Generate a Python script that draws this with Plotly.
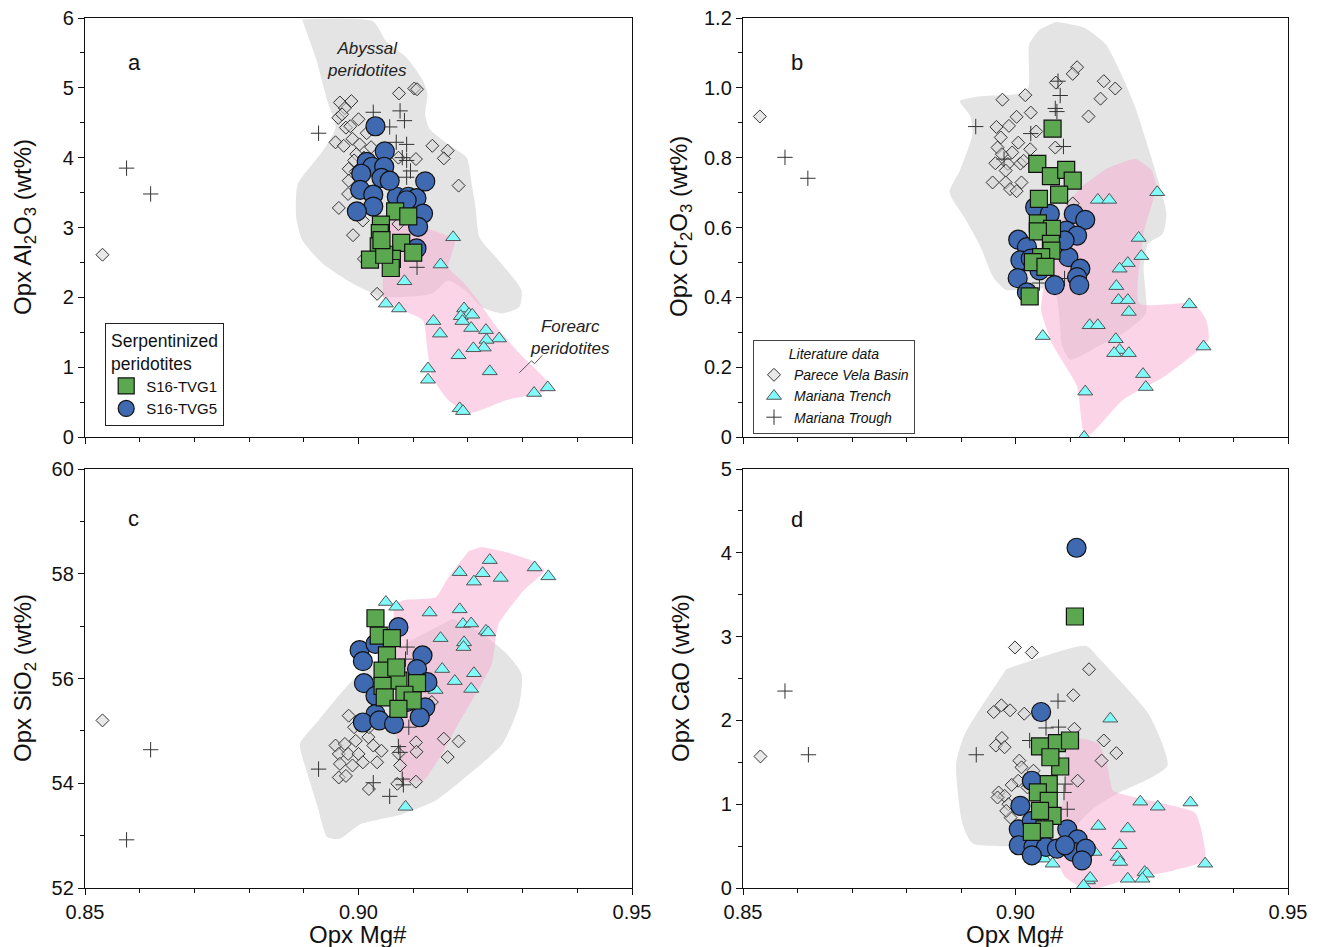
import plotly.graph_objects as go

# ---------------- Panel a : Al2O3 ----------------
A_ABYSSAL_X = [0.8897,0.9027,0.9050,0.9088,0.9118,0.9126,0.9122,0.9130,0.9164,0.9198,0.9206,0.9214,0.9221,0.9256,0.9298,0.9294,0.9263,0.9225,0.9195,0.9164,0.9134,0.9042,0.8989,0.8935,0.8897,0.8886,0.8889,0.8935,0.8958,0.8943,0.8924]
A_ABYSSAL_Y = [5.98,5.95,5.67,5.43,5.10,4.91,4.62,4.41,4.19,4.00,3.67,3.29,2.86,2.53,2.10,1.86,1.77,1.86,2.10,2.24,2.05,2.01,2.20,2.48,2.82,3.15,3.62,4.10,4.43,4.81,5.38]
A_FOREARC_X = [0.9053,0.9118,0.9176,0.9164,0.9191,0.9218,0.9252,0.9294,0.9347,0.9340,0.9271,0.9202,0.9164,0.9134,0.9126,0.9118,0.9080,0.9046,0.9046,0.9050]
A_FOREARC_Y = [3.24,3.01,2.82,2.43,2.22,1.96,1.58,1.20,0.77,0.65,0.53,0.34,0.53,0.87,1.25,1.67,1.82,1.98,2.43,2.91]
A_PVB_X = [0.9102,0.9107,0.9074,0.8966,0.8987,0.8975,0.8963,0.9000,0.8977,0.9015,0.8958,0.8973,0.8989,0.9002,0.9023,0.8996,0.9135,0.9163,0.9156,0.9105,0.9073,0.8982,0.8992,0.8982,0.8981,0.9183,0.8964,0.8990,0.9008,0.9010,0.9034,0.9073,0.8532,0.8970,0.8985,0.9010,0.8995]
A_PVB_Y = [4.99,4.98,4.92,4.79,4.81,4.71,4.57,4.55,4.43,4.35,4.22,4.17,4.27,4.19,4.15,4.05,4.17,4.10,3.99,3.98,4.00,3.84,3.96,3.67,3.48,3.60,3.28,2.89,3.10,2.55,2.05,3.05,2.61,4.62,4.45,4.00,3.80]
A_TRENCH_X = [0.9173,0.9150,0.9084,0.9050,0.9074,0.9193,0.9202,0.9187,0.9208,0.9137,0.9190,0.9149,0.9206,0.9233,0.9257,0.9234,0.9229,0.9210,0.9183,0.9240,0.9127,0.9127,0.9321,0.9346,0.9185,0.9191]
A_TRENCH_Y = [2.86,2.47,2.23,1.91,1.84,1.84,1.76,1.73,1.75,1.66,1.66,1.48,1.56,1.53,1.41,1.39,1.28,1.27,1.17,0.94,0.98,0.82,0.63,0.71,0.41,0.37]
A_TROUGH_X = [0.8576,0.8620,0.8927,0.9027,0.9076,0.9084,0.9057,0.9069,0.9088,0.9080,0.9088,0.9095,0.9088,0.9107]
A_TROUGH_Y = [3.85,3.48,4.35,4.65,4.67,4.53,4.44,4.22,4.19,4.00,3.96,3.81,3.72,2.43]
A_TVG5_X = [0.9031,0.9048,0.9015,0.9025,0.9047,0.9005,0.9042,0.9003,0.9027,0.9070,0.9091,0.9106,0.9122,0.9027,0.8997,0.9118,0.9109,0.9106,0.9057,0.9088]
A_TVG5_Y = [4.45,4.09,3.94,3.87,3.87,3.77,3.71,3.54,3.47,3.44,3.44,3.42,3.66,3.30,3.23,3.20,3.01,2.70,3.67,3.39]
A_TVG1_X = [0.9067,0.9091,0.9041,0.9039,0.9037,0.9078,0.9100,0.9021,0.9061,0.9059,0.9047,0.9042]
A_TVG1_Y = [3.23,3.16,3.04,2.92,2.73,2.78,2.64,2.54,2.55,2.42,2.61,2.82]
A_LEADER_X = [0.9294,0.9310,0.9316,0.9322,0.9336]
A_LEADER_Y = [0.92,1.04,1.09,1.05,1.17]

# ---------------- Panel b : Cr2O3 ----------------
B_ABYSSAL_X = [0.9074,0.9128,0.9166,0.9197,0.9220,0.9262,0.9277,0.9270,0.9243,0.9235,0.9239,0.9197,0.9151,0.9101,0.9086,0.9070,0.8982,0.8959,0.8936,0.8906,0.8879,0.8898,0.8921,0.8917,0.8898,0.8936,0.9021,0.9025,0.9044]
B_ABYSSAL_Y = [1.189,1.171,1.124,1.029,0.943,0.734,0.639,0.582,0.553,0.487,0.354,0.297,0.259,0.221,0.259,0.420,0.422,0.458,0.544,0.629,0.701,0.763,0.867,0.919,0.962,0.976,0.991,1.124,1.167]
B_FOREARC_X = [0.9120,0.9166,0.9220,0.9250,0.9258,0.9235,0.9227,0.9327,0.9350,0.9354,0.9273,0.9197,0.9136,0.9124,0.9113,0.9067,0.9047,0.9051,0.9067,0.9090]
B_FOREARC_Y = [0.715,0.767,0.796,0.763,0.715,0.582,0.382,0.382,0.335,0.278,0.173,0.106,0.007,0.021,0.145,0.268,0.363,0.420,0.487,0.658]
B_PVB_X = [0.8531,0.9113,0.9105,0.9074,0.9162,0.9183,0.8976,0.9018,0.9156,0.9028,0.9002,0.9134,0.8965,0.8988,0.9038,0.8973,0.9005,0.8967,0.9027,0.9073,0.8994,0.8975,0.8963,0.8986,0.9009,0.8982,0.8958,0.8982,0.9011,0.8990,0.9002,0.9105,0.9015]
B_PVB_Y = [0.918,1.059,1.040,1.015,1.019,0.998,0.966,0.979,0.969,0.929,0.917,0.918,0.888,0.891,0.875,0.858,0.843,0.829,0.824,0.829,0.815,0.810,0.784,0.782,0.783,0.763,0.729,0.729,0.729,0.710,0.704,0.669,0.791]
B_TRENCH_X = [0.9151,0.9172,0.9260,0.9226,0.9231,0.9206,0.9191,0.9185,0.9189,0.9206,0.9208,0.9319,0.9136,0.9151,0.9050,0.9184,0.9191,0.9181,0.9208,0.9345,0.9234,0.9239,0.9128,0.9126]
B_TRENCH_Y = [0.679,0.679,0.701,0.570,0.518,0.498,0.482,0.432,0.392,0.392,0.358,0.380,0.320,0.320,0.289,0.280,0.249,0.240,0.240,0.259,0.180,0.143,0.130,0.000]
B_TROUGH_X = [0.8577,0.8619,0.8927,0.9078,0.9082,0.9073,0.9076,0.9028,0.9088,0.8979,0.9090,0.9044,0.9090]
B_TROUGH_Y = [0.801,0.741,0.889,1.019,0.978,0.941,0.932,0.869,0.832,0.796,0.715,0.441,0.454]
B_TVG5_X = [0.9036,0.9063,0.9107,0.9128,0.9093,0.9113,0.9005,0.9021,0.9097,0.9009,0.9028,0.9119,0.9004,0.9113,0.9117,0.9072,0.9021,0.9044,0.9090]
B_TVG5_Y = [0.658,0.639,0.639,0.622,0.591,0.577,0.565,0.544,0.515,0.506,0.511,0.482,0.455,0.458,0.435,0.435,0.414,0.477,0.563]
B_TVG1_X = [0.9068,0.9040,0.9065,0.9093,0.9105,0.9080,0.9043,0.9041,0.9067,0.9041,0.9065,0.9066,0.9047,0.9032,0.9055,0.9026]
B_TVG1_Y = [0.883,0.782,0.747,0.765,0.734,0.694,0.682,0.612,0.596,0.589,0.553,0.534,0.515,0.501,0.487,0.403]

# ---------------- Panel c : SiO2 ----------------
C_ABYSSAL_X = [0.9172,0.9218,0.9271,0.9298,0.9294,0.9263,0.9195,0.9141,0.9080,0.9004,0.8966,0.8943,0.8924,0.8905,0.8893,0.8927,0.8989,0.9065,0.9118]
C_ABYSSAL_Y = [57.14,56.91,56.47,56.09,55.51,54.75,54.11,53.67,53.41,53.22,52.94,52.97,53.60,54.24,54.75,55.20,55.96,56.53,56.85]
C_FOREARC_X = [0.9225,0.9271,0.9317,0.9340,0.9302,0.9256,0.9244,0.9218,0.9179,0.9149,0.9118,0.9080,0.9073,0.9065,0.9069,0.9065,0.9080,0.9141,0.9164,0.9202]
C_FOREARC_Y = [58.51,58.41,58.25,58.06,57.68,57.04,56.28,55.77,55.07,54.50,54.05,54.05,54.62,55.26,56.53,57.36,57.49,57.55,57.93,58.44]
C_PVB_X = [0.8532,0.8982,0.8992,0.8958,0.8975,0.8995,0.8964,0.8981,0.9000,0.8966,0.8989,0.9008,0.8964,0.9018,0.9027,0.9042,0.9034,0.9019,0.9071,0.9076,0.9073,0.9105,0.9106,0.9105,0.9156,0.9183,0.9163,0.9134,0.9019,0.8977]
C_PVB_Y = [55.20,55.29,55.07,54.72,54.75,54.81,54.56,54.56,54.56,54.37,54.34,54.40,54.11,54.88,54.72,54.62,54.40,53.89,53.99,54.34,54.57,54.78,54.60,54.03,54.85,54.80,54.50,55.55,55.07,54.14]
C_TRENCH_X = [0.9240,0.9322,0.9347,0.9185,0.9227,0.9260,0.9211,0.9050,0.9069,0.9130,0.9185,0.9191,0.9206,0.9233,0.9237,0.9150,0.9193,0.9192,0.9153,0.9211,0.9176,0.9206,0.9086,0.9141]
C_TRENCH_Y = [58.26,58.12,57.95,58.03,58.01,57.92,57.85,57.46,57.37,57.26,57.32,57.04,57.05,56.91,56.88,56.77,56.69,56.60,56.18,56.10,55.95,55.80,53.55,55.78]
C_TROUGH_X = [0.8576,0.8620,0.8927,0.9027,0.9057,0.9080,0.9082,0.9073,0.9076,0.9089,0.9086,0.9092]
C_TROUGH_Y = [52.92,54.64,54.27,54.01,53.75,54.08,53.97,54.70,54.59,56.60,56.37,55.07]
C_TVG5_X = [0.9073,0.9002,0.9031,0.9008,0.9117,0.9107,0.9010,0.9126,0.9031,0.9122,0.9031,0.9008,0.9038,0.9112,0.9065,0.9088]
C_TVG5_Y = [56.98,56.54,56.66,56.33,56.44,56.18,55.91,55.93,55.67,55.45,55.32,55.16,55.20,55.26,55.13,55.55]
C_TVG1_X = [0.9031,0.9037,0.9061,0.9052,0.9044,0.9073,0.9107,0.9044,0.9048,0.9084,0.9099,0.9073,0.9069]
C_TVG1_Y = [57.15,56.82,56.77,56.44,56.15,55.96,55.91,55.86,55.64,55.69,55.58,55.42,56.21]

# ---------------- Panel d : CaO ----------------
D_ABYSSAL_X = [0.8983,0.9129,0.9152,0.9198,0.9244,0.9267,0.9279,0.9244,0.9191,0.9145,0.9114,0.9091,0.9068,0.8922,0.8903,0.8891,0.8907,0.8937]
D_ABYSSAL_Y = [2.61,2.89,2.75,2.43,2.08,1.76,1.46,1.30,1.14,0.96,0.76,0.60,0.53,0.53,0.76,1.48,1.84,2.16]
D_FOREARC_X = [0.9091,0.9122,0.9152,0.9168,0.9179,0.9221,0.9329,0.9340,0.9348,0.9290,0.9198,0.9152,0.9122,0.9091,0.9076,0.9083,0.9091]
D_FOREARC_Y = [1.72,1.78,1.72,1.48,1.16,1.08,0.90,0.72,0.33,0.21,0.09,0.00,0.00,0.13,0.33,0.84,1.24]
D_PVB_X = [0.8532,0.8999,0.9030,0.9135,0.9106,0.8960,0.8974,0.8990,0.9016,0.9108,0.8964,0.8975,0.8980,0.9162,0.9185,0.9158,0.9007,0.9011,0.9033,0.9114,0.9005,0.8993,0.8969,0.8980,0.8967,0.8987,0.8991,0.8983,0.9022]
D_PVB_Y = [1.57,2.87,2.81,2.61,2.30,2.10,2.18,2.12,2.08,1.90,1.70,1.79,1.68,1.76,1.61,1.52,1.52,1.44,1.40,1.28,1.28,1.23,1.14,1.10,1.08,1.00,0.84,0.92,1.20]
D_TRENCH_X = [0.9174,0.9229,0.9261,0.9321,0.9206,0.9152,0.9145,0.9191,0.9187,0.9192,0.9237,0.9241,0.9206,0.9133,0.9137,0.9348,0.9053,0.9068,0.9125,0.9233]
D_TRENCH_Y = [2.02,1.03,0.97,1.02,0.71,0.74,0.43,0.51,0.37,0.31,0.19,0.17,0.11,0.09,0.12,0.29,0.35,0.29,0.03,0.11]
D_TROUGH_X = [0.8577,0.8620,0.8928,0.9078,0.9056,0.9079,0.9026,0.9089,0.9095,0.9091]
D_TROUGH_Y = [2.35,1.59,1.59,2.23,1.91,1.92,1.76,1.14,0.94,1.24]
D_TVG5_X = [0.9112,0.9047,0.9030,0.9009,0.9006,0.9030,0.9095,0.9114,0.9006,0.9033,0.9056,0.9076,0.9106,0.9129,0.9122,0.9030,0.9091]
D_TVG5_Y = [4.06,2.10,1.28,0.98,0.70,0.80,0.70,0.58,0.51,0.49,0.49,0.47,0.43,0.47,0.33,0.39,0.51]
D_TVG1_X = [0.9109,0.9045,0.9076,0.9100,0.9082,0.9061,0.9041,0.9061,0.9068,0.9053,0.9030,0.9064,0.9045]
D_TVG1_Y = [3.24,1.69,1.73,1.76,1.45,1.24,1.14,1.04,0.86,0.70,0.67,1.56,0.92]

# ---------------- styles ----------------
FONT = "Arial, Liberation Sans, sans-serif"
GRAY = "rgb(228,228,228)"
PINK = "rgba(247,170,210,0.5)"

fig = go.Figure()

panels = [
    ("x", "y", A_ABYSSAL_X, A_ABYSSAL_Y, A_FOREARC_X, A_FOREARC_Y, A_PVB_X, A_PVB_Y, A_TRENCH_X, A_TRENCH_Y, A_TROUGH_X, A_TROUGH_Y, A_TVG5_X, A_TVG5_Y, A_TVG1_X, A_TVG1_Y),
    ("x2", "y2", B_ABYSSAL_X, B_ABYSSAL_Y, B_FOREARC_X, B_FOREARC_Y, B_PVB_X, B_PVB_Y, B_TRENCH_X, B_TRENCH_Y, B_TROUGH_X, B_TROUGH_Y, B_TVG5_X, B_TVG5_Y, B_TVG1_X, B_TVG1_Y),
    ("x3", "y3", C_ABYSSAL_X, C_ABYSSAL_Y, C_FOREARC_X, C_FOREARC_Y, C_PVB_X, C_PVB_Y, C_TRENCH_X, C_TRENCH_Y, C_TROUGH_X, C_TROUGH_Y, C_TVG5_X, C_TVG5_Y, C_TVG1_X, C_TVG1_Y),
    ("x4", "y4", D_ABYSSAL_X, D_ABYSSAL_Y, D_FOREARC_X, D_FOREARC_Y, D_PVB_X, D_PVB_Y, D_TRENCH_X, D_TRENCH_Y, D_TROUGH_X, D_TROUGH_Y, D_TVG5_X, D_TVG5_Y, D_TVG1_X, D_TVG1_Y),
]

for i, (xa, ya, gx, gy, px, py, dx, dy, tx, ty, cx, cy, bx, by, sx, sy) in enumerate(panels):
    fig.add_trace(go.Scatter(x=gx, y=gy, xaxis=xa, yaxis=ya, mode="none", fill="toself",
                             fillcolor=GRAY, line=dict(shape="spline", smoothing=0.6, width=0),
                             showlegend=False, hoverinfo="skip"))
    fig.add_trace(go.Scatter(x=px, y=py, xaxis=xa, yaxis=ya, mode="none", fill="toself",
                             fillcolor=PINK, line=dict(shape="spline", smoothing=0.5, width=0),
                             showlegend=False, hoverinfo="skip"))
    fig.add_trace(go.Scatter(x=dx, y=dy, xaxis=xa, yaxis=ya, mode="markers", name="Parece Vela Basin",
                             marker=dict(symbol="diamond", size=10, color="rgba(215,215,215,0.55)",
                                         line=dict(color="#333", width=1)),
                             showlegend=(i == 1), legend="legend2", legendrank=1))
    fig.add_trace(go.Scatter(x=tx, y=ty, xaxis=xa, yaxis=ya, mode="markers", name="Mariana Trench",
                             marker=dict(symbol="triangle-up", size=13, color="rgb(128,250,250)",
                                         line=dict(color="#555", width=1)),
                             showlegend=(i == 1), legend="legend2", legendrank=2))
    fig.add_trace(go.Scatter(x=cx, y=cy, xaxis=xa, yaxis=ya, mode="markers", name="Mariana Trough",
                             marker=dict(symbol="cross-thin", size=11,
                                         line=dict(color="#333", width=1)),
                             showlegend=(i == 1), legend="legend2", legendrank=3))
    fig.add_trace(go.Scatter(x=bx, y=by, xaxis=xa, yaxis=ya, mode="markers", name="S16-TVG5",
                             marker=dict(symbol="circle", size=19, color="rgb(63,106,178)",
                                         line=dict(color="#111", width=1.2)),
                             showlegend=(i == 0), legend="legend", legendrank=2))
    fig.add_trace(go.Scatter(x=sx, y=sy, xaxis=xa, yaxis=ya, mode="markers", name="S16-TVG1",
                             marker=dict(symbol="square", size=17, color="rgb(92,168,80)",
                                         line=dict(color="#111", width=1.2)),
                             showlegend=(i == 0), legend="legend", legendrank=1))

fig.add_trace(go.Scatter(x=A_LEADER_X, y=A_LEADER_Y, xaxis="x", yaxis="y", mode="lines",
                         line=dict(color="#555", width=1), showlegend=False, hoverinfo="skip"))

X_TICKS = [0.85, 0.90, 0.95]
X_TEXT = ["0.85", "0.90", "0.95"]

def xaxis(domain, anchor, labels):
    return dict(domain=domain, anchor=anchor, range=[0.85, 0.95], tickvals=X_TICKS, ticktext=X_TEXT,
                showticklabels=labels, ticks="outside", ticklen=6, tickwidth=1.2, tickcolor="#111",
                minor=dict(dtick=0.01, tick0=0.85, ticks="outside", ticklen=4, tickcolor="#111", showgrid=False),
                showline=True, linecolor="#111", linewidth=1.4, mirror=True, showgrid=False, zeroline=False,
                automargin=False, tickfont=dict(family=FONT, size=20, color="#111"))

def yaxis(domain, anchor, rng, vals, texts, mdt):
    return dict(domain=domain, anchor=anchor, range=rng, tickvals=vals, ticktext=texts,
                ticks="outside", ticklen=6, tickwidth=1.2, tickcolor="#111",
                minor=dict(dtick=mdt, tick0=rng[0], ticks="outside", ticklen=4, tickcolor="#111", showgrid=False),
                showline=True, linecolor="#111", linewidth=1.4, mirror=True, showgrid=False, zeroline=False,
                automargin=False, tickfont=dict(family=FONT, size=20, color="#111"))

XL = [85/1320, 632/1320]
XR = [743/1320, 1288/1320]
YT = [(947-437)/947, (947-18)/947]
YB = [(947-888)/947, (947-469)/947]

fig.update_layout(
    width=1320, height=947, margin=dict(l=0, r=0, t=0, b=0, autoexpand=False),
    paper_bgcolor="white", plot_bgcolor="white",
    font=dict(family=FONT, color="#111"),
    xaxis=xaxis(XL, "y", False), yaxis=yaxis(YT, "x", [0, 6], [0,1,2,3,4,5,6], ["0","1","2","3","4","5","6"], 0.5),
    xaxis2=xaxis(XR, "y2", False), yaxis2=yaxis(YT, "x2", [0, 1.2], [0,0.2,0.4,0.6,0.8,1.0,1.2], ["0","0.2","0.4","0.6","0.8","1.0","1.2"], 0.1),
    xaxis3=xaxis(XL, "y3", True), yaxis3=yaxis(YB, "x3", [52, 60], [52,54,56,58,60], ["52","54","56","58","60"], 1),
    xaxis4=xaxis(XR, "y4", True), yaxis4=yaxis(YB, "x4", [0, 5], [0,1,2,3,4,5], ["0","1","2","3","4","5"], 0.5),
    legend=dict(x=105/1320, y=(947-323)/947, xanchor="left", yanchor="top",
                bgcolor="white", bordercolor="#222", borderwidth=1.2,
                title=dict(text="Serpentinized<br>peridotites", side="top center", font=dict(family=FONT, size=17.5)),
                font=dict(family=FONT, size=15), tracegroupgap=2, itemwidth=30),
    legend2=dict(x=753/1320, y=(947-340)/947, xanchor="left", yanchor="top",
                 bgcolor="white", bordercolor="#444", borderwidth=1,
                 title=dict(text="<i>Literature data</i>", side="top center", font=dict(family=FONT, size=14)),
                 font=dict(family=FONT, size=14, style="italic"), itemwidth=30),
)

ann = []
for xr_, yr_, txt, xx, yy in [("x domain", "y domain", "a", 0.0896, 0.893),
                               ("x2 domain", "y2 domain", "b", 0.099, 0.893),
                               ("x3 domain", "y3 domain", "c", 0.089, 0.883),
                               ("x4 domain", "y4 domain", "d", 0.099, 0.880)]:
    ann.append(dict(xref=xr_, yref=yr_, x=xx, y=yy, text=txt, showarrow=False,
                    xanchor="center", yanchor="middle",
                    font=dict(family=FONT, size=22, color="#111")))

for txt, xx, yy in [("Opx Al<sub>2</sub>O<sub>3</sub> (wt%)", 24/1320, (947-227)/947),
                    ("Opx Cr<sub>2</sub>O<sub>3</sub> (wt%)", 680/1320, (947-227)/947),
                    ("Opx SiO<sub>2</sub> (wt%)", 24/1320, (947-678)/947),
                    ("Opx CaO (wt%)", 680/1320, (947-678)/947)]:
    ann.append(dict(xref="paper", yref="paper", x=xx, y=yy, text=txt, textangle=-90, showarrow=False,
                    xanchor="center", yanchor="middle",
                    font=dict(family=FONT, size=24, color="#111")))

for xx in [358/1320, 1015/1320]:
    ann.append(dict(xref="paper", yref="paper", x=xx, y=(947-934)/947, text="Opx Mg#", showarrow=False,
                    xanchor="center", yanchor="middle",
                    font=dict(family=FONT, size=24, color="#111")))

ann.append(dict(xref="x", yref="y", x=0.9016, y=5.40, text="<i>Abyssal<br>peridotites</i>", showarrow=False,
                xanchor="center", yanchor="middle",
                font=dict(family=FONT, size=17, color="#222")))
ann.append(dict(xref="x", yref="y", x=0.9387, y=1.42, text="<i>Forearc<br>peridotites</i>", showarrow=False,
                xanchor="center", yanchor="middle",
                font=dict(family=FONT, size=17, color="#222")))

fig.update_layout(annotations=ann)
fig.write_html("out.html", config={"displayModeBar": False},
               post_script="document.body.style.margin='0px';document.body.style.overflow='hidden';")
